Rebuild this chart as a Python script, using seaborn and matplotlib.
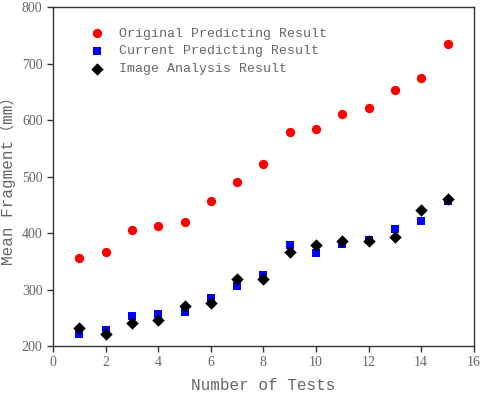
import matplotlib
matplotlib.use("Agg")
import matplotlib.pyplot as plt
import pandas as pd
import seaborn as sns

tests = list(range(1, 16))
original = [356, 366, 406, 413, 419, 456, 491, 522, 579, 584, 611, 621, 653, 675, 734]
current = [222, 228, 253, 257, 261, 285, 306, 326, 378, 365, 381, 387, 407, 421, 457]
image = [232, 221, 241, 246, 271, 277, 318, 319, 367, 378, 386, 386, 393, 441, 460]

sns.set_style("ticks")
plt.rcParams['font.family'] = ['Liberation Serif', 'DejaVu Serif']

df = pd.DataFrame({"test": tests, "original": original, "current": current, "image": image})

fig = plt.figure(figsize=(4.84, 3.95), dpi=100)
ax = fig.add_axes([0.1095, 0.124, 0.8695, 0.858])

sns.scatterplot(data=df, x="test", y="original", marker='o', color='red', s=45, linewidth=0,
                label='Original Predicting Result', ax=ax)
sns.scatterplot(data=df, x="test", y="current", marker='s', color='blue', s=35, linewidth=0,
                label='Current Predicting Result', ax=ax)
sns.scatterplot(data=df, x="test", y="image", marker='D', color='black', s=40, linewidth=0,
                label='Image Analysis Result', ax=ax)

ax.set_xlim(0, 16)
ax.set_ylim(200, 800)
ax.set_xticks(range(0, 17, 2))
ax.set_yticks(range(200, 801, 100))
grey = '#666666'
ax.tick_params(direction='out', length=4, width=1, colors='#333333', labelcolor=grey, labelsize=10)
for sp in ax.spines.values():
    sp.set_visible(True)
    sp.set_color('#333333')
    sp.set_linewidth(1)

mono = ['Liberation Mono', 'Noto Sans CJK SC']
ax.set_xlabel('Number of Tests', family=mono, fontsize=11.5, color=grey, labelpad=6)
ax.set_ylabel('Mean Fragment（mm）', family=mono, fontsize=11.5, color=grey)

leg = ax.legend(loc='upper left', bbox_to_anchor=(0.045, 0.975), frameon=False,
                prop={'family': mono, 'size': 9.5}, handletextpad=0.7, labelspacing=0.42)
for t in leg.get_texts():
    t.set_color(grey)

fig.savefig('out.png', dpi=100)
